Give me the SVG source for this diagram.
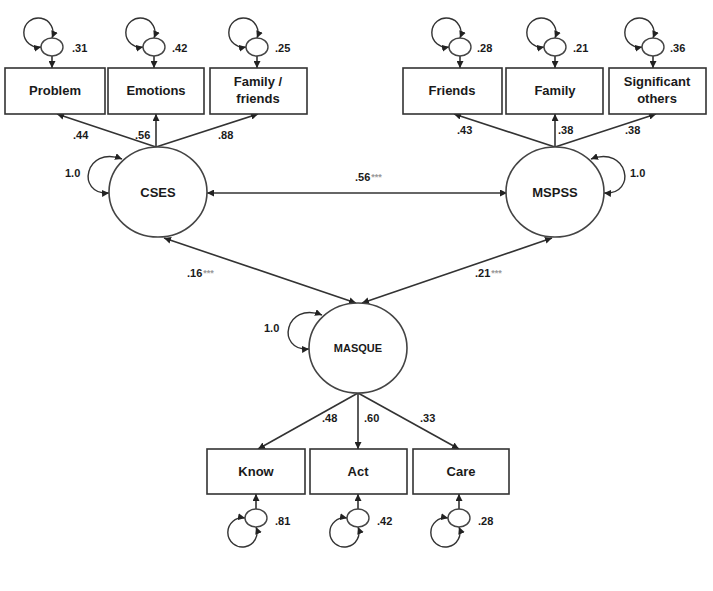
<svg xmlns="http://www.w3.org/2000/svg" width="713" height="591" viewBox="0 0 713 591">
<style>
.bg{fill:#fff}
.box{fill:#fff;stroke:#333;stroke-width:1.6}
.lat{fill:#fff;stroke:#444;stroke-width:1.6}
.err{fill:#fff;stroke:#444;stroke-width:1.4}
.ln{fill:none;stroke:#333;stroke-width:1.6}
.lp{fill:none;stroke:#333;stroke-width:1.4}
.t{font-family:"Liberation Sans",Arial,sans-serif;font-weight:bold;font-size:13px;fill:#1a1a1a;text-anchor:middle}
.n{font-family:"Liberation Sans",Arial,sans-serif;font-weight:bold;font-size:11px;fill:#1a1a1a}
.st{font-size:9px;fill:#999}
</style>
<defs>
<marker id="ah" viewBox="0 0 10 10" refX="10" refY="5" markerWidth="7" markerHeight="7" markerUnits="userSpaceOnUse" orient="auto-start-reverse">
<path d="M0,0 L10,5 L0,10 z" fill="#222"/>
</marker>
<g id="loopTop">
<path class="lp" d="M-11,0 A14.6,14.6 0 1 1 0,-9" marker-start="url(#ah)" marker-end="url(#ah)"/>
<ellipse class="err" cx="0" cy="0" rx="11" ry="9"/>
</g>
<g id="loopBot">
<path class="lp" d="M-11,0 A14.6,14.6 0 1 0 0,9" marker-start="url(#ah)" marker-end="url(#ah)"/>
<ellipse class="err" cx="0" cy="0" rx="11" ry="9"/>
</g>
</defs>
<rect class="bg" x="0" y="0" width="713" height="591"/>

<g id="connectors">
<line class="ln" x1="156" y1="147" x2="57" y2="114" marker-end="url(#ah)"/>
<line class="ln" x1="156" y1="147" x2="156" y2="114" marker-end="url(#ah)"/>
<line class="ln" x1="156" y1="147" x2="258" y2="114" marker-end="url(#ah)"/>
<line class="ln" x1="555" y1="147" x2="454" y2="114" marker-end="url(#ah)"/>
<line class="ln" x1="555" y1="147" x2="555" y2="114" marker-end="url(#ah)"/>
<line class="ln" x1="555" y1="147" x2="656" y2="114" marker-end="url(#ah)"/>
<line class="ln" x1="207" y1="193" x2="507" y2="193" marker-start="url(#ah)" marker-end="url(#ah)"/>
<line class="ln" x1="164" y1="238" x2="356" y2="303" marker-start="url(#ah)" marker-end="url(#ah)"/>
<line class="ln" x1="552" y1="238" x2="362" y2="303" marker-start="url(#ah)" marker-end="url(#ah)"/>
<line class="ln" x1="358" y1="393" x2="258" y2="449" marker-end="url(#ah)"/>
<line class="ln" x1="358" y1="393" x2="358" y2="449" marker-end="url(#ah)"/>
<line class="ln" x1="358" y1="393" x2="459" y2="449" marker-end="url(#ah)"/>
<path class="lp" d="M122,159 C85,145 75,195 109,193" marker-start="url(#ah)" marker-end="url(#ah)"/>
<path class="lp" d="M591,159 C628,145 638,195 604,193" marker-start="url(#ah)" marker-end="url(#ah)"/>
<path class="lp" d="M322,315 C285,301 275,351 309,349" marker-start="url(#ah)" marker-end="url(#ah)"/>
<line class="ln" x1="52" y1="56" x2="52" y2="68" marker-end="url(#ah)"/>
<line class="ln" x1="154" y1="56" x2="154" y2="68" marker-end="url(#ah)"/>
<line class="ln" x1="257" y1="56" x2="257" y2="68" marker-end="url(#ah)"/>
<line class="ln" x1="460" y1="56" x2="460" y2="68" marker-end="url(#ah)"/>
<line class="ln" x1="555" y1="56" x2="555" y2="68" marker-end="url(#ah)"/>
<line class="ln" x1="653" y1="56" x2="653" y2="68" marker-end="url(#ah)"/>
<line class="ln" x1="256" y1="509" x2="256" y2="494" marker-end="url(#ah)"/>
<line class="ln" x1="358" y1="509" x2="358" y2="494" marker-end="url(#ah)"/>
<line class="ln" x1="459" y1="509" x2="459" y2="494" marker-end="url(#ah)"/>
</g>

<g id="e-problem"><use href="#loopTop" x="52" y="47"/><text class="n" x="72" y="52">.31</text></g>
<g id="e-emotions"><use href="#loopTop" x="154" y="47"/><text class="n" x="172" y="52">.42</text></g>
<g id="e-familyfriends"><use href="#loopTop" x="257" y="47"/><text class="n" x="275" y="52">.25</text></g>
<g id="e-friends"><use href="#loopTop" x="460" y="47"/><text class="n" x="477" y="52">.28</text></g>
<g id="e-family"><use href="#loopTop" x="555" y="47"/><text class="n" x="573" y="52">.21</text></g>
<g id="e-sig"><use href="#loopTop" x="653" y="47"/><text class="n" x="670" y="52">.36</text></g>
<g id="e-know"><use href="#loopBot" x="256" y="518"/><text class="n" x="275" y="525">.81</text></g>
<g id="e-act"><use href="#loopBot" x="358" y="518"/><text class="n" x="377" y="525">.42</text></g>
<g id="e-care"><use href="#loopBot" x="459" y="518"/><text class="n" x="478" y="525">.28</text></g>

<g id="problem"><rect class="box" x="5" y="68" width="100" height="46"/><text class="t" x="55" y="95">Problem</text></g>
<g id="emotions"><rect class="box" x="108" y="68" width="96" height="46"/><text class="t" x="156" y="95">Emotions</text></g>
<g id="familyfriends"><rect class="box" x="210" y="68" width="97" height="46"/><text class="t" x="258" y="86">Family /</text><text class="t" x="258" y="103">friends</text></g>
<g id="friends"><rect class="box" x="403" y="68" width="99" height="46"/><text class="t" x="452" y="95">Friends</text></g>
<g id="family"><rect class="box" x="506" y="68" width="97" height="46"/><text class="t" x="555" y="95">Family</text></g>
<g id="significant"><rect class="box" x="609" y="68" width="97" height="46"/><text class="t" x="657" y="86">Significant</text><text class="t" x="657" y="103">others</text></g>

<g id="cses"><ellipse class="lat" cx="158" cy="192" rx="49" ry="45"/><text class="t" x="158" y="197">CSES</text><text class="n" x="65" y="177">1.0</text></g>
<g id="mspss"><ellipse class="lat" cx="555" cy="192" rx="49" ry="45"/><text class="t" x="555" y="197">MSPSS</text><text class="n" x="630" y="177">1.0</text></g>
<g id="masque"><ellipse class="lat" cx="358" cy="348" rx="49" ry="45"/><text class="t" x="358" y="352" style="font-size:11px">MASQUE</text><text class="n" x="264" y="332">1.0</text></g>

<g id="know"><rect class="box" x="207" y="449" width="98" height="45"/><text class="t" x="256" y="476">Know</text></g>
<g id="act"><rect class="box" x="310" y="449" width="97" height="45"/><text class="t" x="358" y="476">Act</text></g>
<g id="care"><rect class="box" x="413" y="449" width="96" height="45"/><text class="t" x="461" y="476">Care</text></g>

<g id="labels">
<text class="n" x="73" y="139">.44</text>
<text class="n" x="135" y="139">.56</text>
<text class="n" x="218" y="139">.88</text>
<text class="n" x="457" y="134">.43</text>
<text class="n" x="558" y="134">.38</text>
<text class="n" x="625" y="134">.38</text>
<text class="n" x="355" y="181">.56<tspan class="st" dx="1" dy="-1">***</tspan></text>
<text class="n" x="187" y="277">.16<tspan class="st" dx="1" dy="-1">***</tspan></text>
<text class="n" x="475" y="277">.21<tspan class="st" dx="1" dy="-1">***</tspan></text>
<text class="n" x="322" y="422">.48</text>
<text class="n" x="364" y="422">.60</text>
<text class="n" x="420" y="422">.33</text>
</g>
</svg>
